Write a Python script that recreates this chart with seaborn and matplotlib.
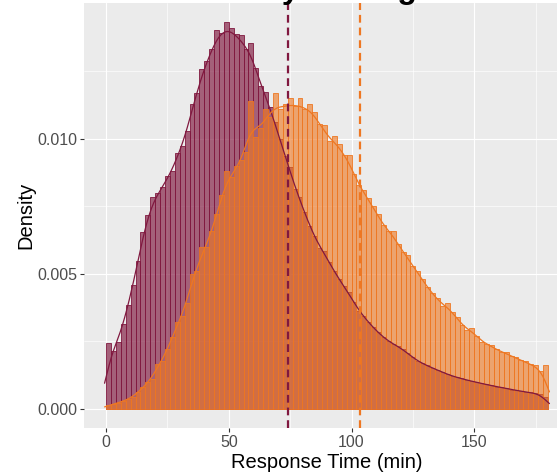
import numpy as np
import pandas as pd
import matplotlib
matplotlib.use("Agg")
import matplotlib.pyplot as plt
from matplotlib.ticker import FixedLocator
import seaborn as sns

# ---------------- data ----------------
bin_starts = list(range(0, 180, 2))          # 2-minute bins, 0..180

maroon_density = [
    0.00242, 0.00215, 0.00246, 0.00314, 0.00384, 0.00458, 0.00548, 0.00653, 0.00719, 0.00783,
    0.00799, 0.00823, 0.00863, 0.00880, 0.00949, 0.00974, 0.01030, 0.01128, 0.01169, 0.01260,
    0.01289, 0.01332, 0.01403, 0.01393, 0.01431, 0.01412, 0.01387, 0.01385, 0.01332, 0.01353,
    0.01264, 0.01196, 0.01174, 0.01116, 0.01061, 0.00999, 0.00937, 0.00894, 0.00814, 0.00783,
    0.00727, 0.00678, 0.00641, 0.00597, 0.00585, 0.00542, 0.00511, 0.00480, 0.00456, 0.00431,
    0.00394, 0.00363, 0.00344, 0.00320, 0.00301, 0.00283, 0.00264, 0.00252, 0.00240, 0.00233,
    0.00222, 0.00205, 0.00190, 0.00176, 0.00168, 0.00160, 0.00151, 0.00145, 0.00136, 0.00128,
    0.00122, 0.00116, 0.00112, 0.00106, 0.00103, 0.00098, 0.00094, 0.00090, 0.00086, 0.00082,
    0.00080, 0.00075, 0.00071, 0.00069, 0.00066, 0.00062, 0.00060, 0.00058, 0.00055, 0.00042,
]

orange_density = [
    0.00015, 0.00017, 0.00022, 0.00027, 0.00035, 0.00043, 0.00060, 0.00079, 0.00097, 0.00110,
    0.00165, 0.00178, 0.00220, 0.00264, 0.00320, 0.00344, 0.00390, 0.00500, 0.00510, 0.00600,
    0.00600, 0.00660, 0.00720, 0.00790, 0.00880, 0.00860, 0.00900, 0.00920, 0.00950, 0.01140,
    0.01005, 0.01040, 0.01110, 0.01080, 0.01168, 0.01110, 0.01130, 0.01150, 0.01120, 0.01150,
    0.01110, 0.01130, 0.01100, 0.01055, 0.01050, 0.00990, 0.01010, 0.00980, 0.00940, 0.00940,
    0.00870, 0.00830, 0.00810, 0.00780, 0.00750, 0.00720, 0.00680, 0.00660, 0.00660, 0.00610,
    0.00580, 0.00570, 0.00530, 0.00510, 0.00480, 0.00450, 0.00430, 0.00410, 0.00380, 0.00390,
    0.00360, 0.00340, 0.00310, 0.00290, 0.00300, 0.00270, 0.00248, 0.00240, 0.00236, 0.00220,
    0.00210, 0.00210, 0.00196, 0.00190, 0.00180, 0.00175, 0.00165, 0.00160, 0.00138, 0.00162,
]

mean_maroon = 74.2
mean_orange = 103.5

x_ticks = [0, 50, 100, 150]
x_minor = [25, 75, 125, 175]
y_ticks = [0.000, 0.005, 0.010]
y_tick_labels = ["0.000", "0.005", "0.010"]
y_minor = [0.0025, 0.0075, 0.0125]

title_text = "Distribution by Setting"
x_label = "Response Time (min)"
y_label = "Density"

# ---------------- styling ----------------
maroon = "#80183F"
orange = "#EE7722"

sns.set_theme(style="darkgrid")
plt.rcParams["font.family"] = ["Liberation Sans", "DejaVu Sans"]

W, H = 557, 476
fig = plt.figure(figsize=(W / 100, H / 100), dpi=100)
fig.patch.set_facecolor("white")
ax = fig.add_axes([84 / W, 48 / H, 486 / W, 425 / H])
ax.set_facecolor("#EBEBEB")

bin_width = 2
centers = np.array(bin_starts) + bin_width / 2
edges = bin_starts + [bin_starts[-1] + bin_width]

df = pd.DataFrame({"time": centers, "maroon": maroon_density, "orange": orange_density})

def rgba(hexc, a):
    c = matplotlib.colors.to_rgba(hexc)
    return (c[0], c[1], c[2], a)

sns.histplot(data=df, x="time", weights="maroon", bins=edges, stat="count",
             facecolor=rgba(maroon, 0.66), edgecolor=maroon, linewidth=0.6, ax=ax)
sns.kdeplot(data=df, x="time", weights="maroon", bw_adjust=0.17, cut=0.45,
            color=maroon, linewidth=0.9, ax=ax)
sns.histplot(data=df, x="time", weights="orange", bins=edges, stat="count",
             facecolor=rgba(orange, 0.62), edgecolor=orange, linewidth=0.6, ax=ax)
sns.kdeplot(data=df, x="time", weights="orange", bw_adjust=0.17, cut=0.45,
            color=orange, linewidth=0.9, ax=ax)

ax.axvline(mean_maroon, color=maroon, linewidth=1.6, linestyle=(0, (3.5, 2.2)))
ax.axvline(mean_orange, color=orange, linewidth=1.6, linestyle=(0, (3.5, 2.2)))

ax.set_xlim(-9, 189)
ax.set_ylim(-0.000716, 0.01503)

ax.set_xticks(x_ticks)
ax.set_xticklabels([str(v) for v in x_ticks])
ax.set_yticks(y_ticks)
ax.set_yticklabels(y_tick_labels)
ax.xaxis.set_minor_locator(FixedLocator(x_minor))
ax.yaxis.set_minor_locator(FixedLocator(y_minor))

ax.grid(which="major", color="white", linewidth=0.85)
ax.grid(which="minor", color="white", linewidth=0.45)
ax.set_axisbelow(True)

ax.tick_params(which="major", length=3, width=0.8, color="#333333",
               labelsize=11.5, labelcolor="#4D4D4D", pad=2,
               bottom=True, left=True)
ax.tick_params(which="minor", length=0)
for s in ax.spines.values():
    s.set_visible(False)

ax.set_xlabel(x_label, fontsize=14.5, color="black", labelpad=2)
ax.set_ylabel(y_label, fontsize=14.5, color="black", labelpad=1)

# title sits mostly above the (cropped) top edge, only descenders show
fig.text(417 / W, 1 - 5 / H, title_text, ha="right", va="bottom",
         fontsize=23, fontweight="bold", color="black")

fig.savefig("out.png", dpi=100)
